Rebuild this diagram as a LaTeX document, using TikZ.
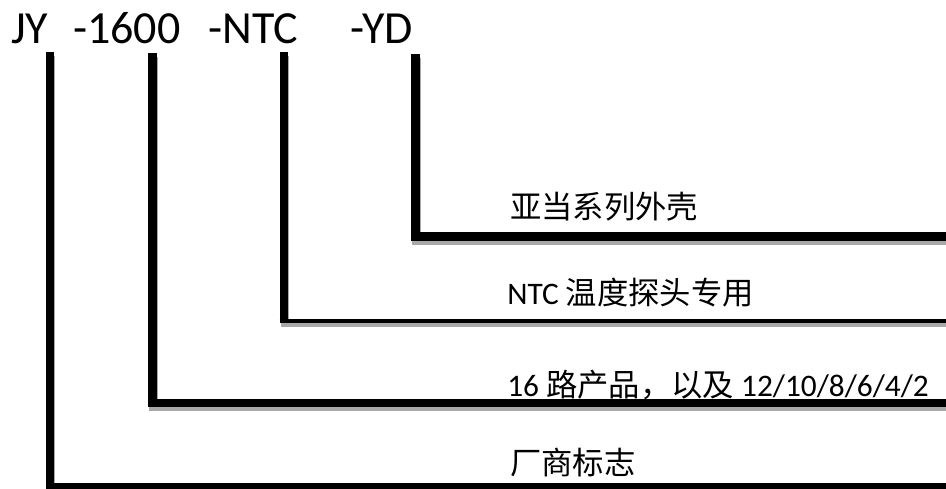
\documentclass[tikz,border=0pt]{standalone}
\usepackage{fontspec}
\setmainfont{Carlito}
\newfontfamily\cjk{Noto Sans CJK SC}
\definecolor{shadowgray}{HTML}{A8A8A8}
\tikzset{
  codetext/.style={anchor=base west, inner sep=0pt, font=\fontsize{34.5}{40}\selectfont},
  labeltext/.style={anchor=base west, inner sep=0pt, font=\fontsize{23.5}{28}\selectfont},
  leader/.style={line width=6.5pt, line cap=butt, line join=miter},
  thinleader/.style={line width=3.2pt, line cap=butt},
  shadowed/.style={shadowgray, transform canvas={xshift=0.75pt, yshift=-3pt}}
}
\begin{document}
\begin{tikzpicture}[x=0.75pt, y=-0.75pt]
  \useasboundingbox (0,0) rectangle (946,489);
  % code segments
  \node[codetext] (c-jy)   at (11,43)  {JY};
  \node[codetext] (c-1600) at (73,43)  {-1600};
  \node[codetext] (c-ntc)  at (208,43) {-NTC};
  \node[codetext] (c-yd)   at (350,43) {-YD};
  % labels
  \node[labeltext] (lab-yd)   at (510,218) {{\cjk 亚当系列外壳}};
  \node[labeltext] (lab-ntc)  at (507,304) {NTC {\cjk 温度探头专用}};
  \node[labeltext] (lab-1600) at (507,396) {16 {\cjk 路产品，以及} 12/10/8/6/4/2};
  \node[labeltext] (lab-jy)   at (510,474) {{\cjk 厂商标志}};
  % leader coordinates
  \coordinate (jy-top)     at (50,52);
  \coordinate (jy-end)     at (952,487.5);
  \coordinate (p1600-top)  at (152.5,53);
  \coordinate (p1600-end)  at (952,403);
  \coordinate (ntc-top)    at (284,52);
  \coordinate (ntc-foot)   at (284,323);
  \coordinate (ntc-left)   at (279.7,321);
  \coordinate (ntc-end)    at (952,321);
  \coordinate (yd-top)     at (415.5,54);
  \coordinate (yd-end)     at (952,236.5);
  % shadows
  \draw[leader, shadowed] (jy-top) |- (jy-end);
  \draw[leader, shadowed] (p1600-top) |- (p1600-end);
  \draw[leader, shadowed] (ntc-top) -- (ntc-foot);
  \draw[thinleader, shadowed] (ntc-left) -- (ntc-end);
  \draw[leader, shadowed] (yd-top) |- (yd-end);
  % leaders
  \draw[leader] (jy-top) |- (jy-end);
  \draw[leader] (p1600-top) |- (p1600-end);
  \draw[leader] (ntc-top) -- (ntc-foot);
  \draw[thinleader] (ntc-left) -- (ntc-end);
  \draw[leader] (yd-top) |- (yd-end);
\end{tikzpicture}
\end{document}
